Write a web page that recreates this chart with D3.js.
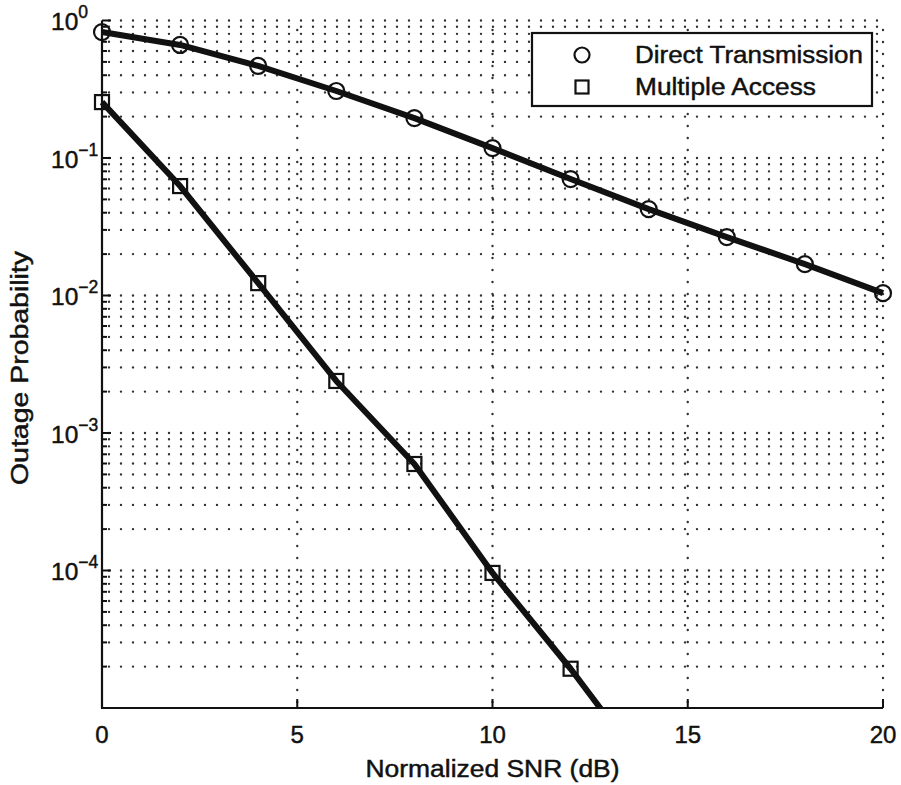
<!DOCTYPE html>
<html>
<head>
<meta charset="utf-8">
<script src="https://cdn.jsdelivr.net/npm/d3@7"></script>
<style>
  html, body { margin: 0; padding: 0; background: #fff; }
  svg { display: block; font-family: Arial, "Liberation Sans", Helvetica, sans-serif; }
  svg text { stroke: #111; stroke-width: 0.45px; }
</style>
</head>
<body>
<svg id="chart" width="901" height="785"></svg>
<script>
// Outage probability vs normalized SNR
const snrDirect = [0, 2, 4, 6, 8, 10, 12, 14, 16, 18, 20];
const outageDirect = [0.824, 0.664, 0.467, 0.307, 0.195, 0.118, 0.0703, 0.0425, 0.0266, 0.0169, 0.0104];

const snrMultiple = [0, 2, 4, 6, 8, 10, 12, 14];
const outageMultiple = [0.255, 0.0625, 0.0123, 0.00239, 0.000595, 0.000096, 0.0000193, 0.0000034];

const xTicks = [0, 5, 10, 15, 20];
const yDecades = [-5, -4, -3, -2, -1, 0];
const yTickLabels = ["", "−4", "−3", "−2", "−1", "0"];
const legendLabels = ["Direct Transmission", "Multiple Access"];

const svg = d3.select("#chart");
const plotLeft = 102, plotRight = 883, plotTop = 20.5, plotBottom = 708;

const x = d3.scaleLinear().domain([0, 20]).range([plotLeft, plotRight]);
const y = d3.scaleLog().domain([1e-5, 1]).range([plotBottom, plotTop]);

const ink = "#111";
const gridColor = "#333";

// dotted grid: all decade and sub-decade levels, vertical at major x ticks
const gridLevels = [];
yDecades.forEach(k => {
  for (let m = 1; m <= 9; m++) {
    const v = m * Math.pow(10, k);
    if (v > 1e-5 * 1.0001 && v <= 1.0001) gridLevels.push(v);
  }
});

const grid = svg.append("g");
grid.selectAll("line.h").data(gridLevels).join("line")
  .attr("class", "h")
  .attr("x1", plotLeft).attr("x2", plotRight)
  .attr("y1", d => y(d)).attr("y2", d => y(d))
  .attr("stroke", gridColor).attr("stroke-width", 2.4)
  .attr("stroke-linecap", "round")
  .attr("stroke-dasharray", "0,12")
  .attr("stroke-dashoffset", -7);

grid.selectAll("line.v").data(xTicks.filter(t => t > 0)).join("line")
  .attr("class", "v")
  .attr("x1", d => x(d)).attr("x2", d => x(d))
  .attr("y1", plotBottom).attr("y2", plotTop)
  .attr("stroke", gridColor).attr("stroke-width", 2.4)
  .attr("stroke-linecap", "round")
  .attr("stroke-dasharray", "0,12")
  .attr("stroke-dashoffset", -6);

// curves stop at the x axis
svg.append("clipPath").attr("id", "lineClip")
  .append("rect").attr("x", plotLeft - 14).attr("y", plotTop - 14)
  .attr("width", plotRight - plotLeft + 28).attr("height", plotBottom - plotTop + 14);

const line = d3.line().x(d => x(d[0])).y(d => y(d[1]));
const direct = d3.zip(snrDirect, outageDirect);
const multiple = d3.zip(snrMultiple, outageMultiple);

const curves = svg.append("g").attr("clip-path", "url(#lineClip)");

curves.append("path").datum(direct).attr("d", line)
  .attr("fill", "none").attr("stroke", ink).attr("stroke-width", 6)
  .attr("stroke-linejoin", "round");
curves.append("path").datum(multiple).attr("d", line)
  .attr("fill", "none").attr("stroke", ink).attr("stroke-width", 6)
  .attr("stroke-linejoin", "round");

curves.selectAll("circle.m").data(direct).join("circle")
  .attr("class", "m")
  .attr("cx", d => x(d[0])).attr("cy", d => y(d[1])).attr("r", 8)
  .attr("fill", "none").attr("stroke", ink).attr("stroke-width", 2.2);

const sq = 14;
curves.selectAll("rect.m").data(multiple.filter(d => d[1] >= 1e-5)).join("rect")
  .attr("class", "m")
  .attr("x", d => x(d[0]) - sq / 2).attr("y", d => y(d[1]) - sq / 2)
  .attr("width", sq).attr("height", sq)
  .attr("fill", "none").attr("stroke", ink).attr("stroke-width", 2.2);

// axes
const axes = svg.append("g");
axes.append("line").attr("x1", plotLeft).attr("x2", plotLeft).attr("y1", plotTop).attr("y2", plotBottom)
  .attr("stroke", ink).attr("stroke-width", 2.2);
axes.append("line").attr("x1", plotLeft - 1).attr("x2", plotRight).attr("y1", plotBottom).attr("y2", plotBottom)
  .attr("stroke", ink).attr("stroke-width", 2.2);

// y ticks (major + minor, pointing inward)
gridLevels.concat([1e-5]).forEach(v => {
  const isMajor = Math.abs(Math.log10(v) - Math.round(Math.log10(v))) < 1e-6;
  axes.append("line")
    .attr("x1", plotLeft).attr("x2", plotLeft + (isMajor ? 9 : 5))
    .attr("y1", y(v)).attr("y2", y(v))
    .attr("stroke", ink).attr("stroke-width", 2);
});

// x ticks
xTicks.forEach(t => {
  axes.append("line").attr("x1", x(t)).attr("x2", x(t))
    .attr("y1", plotBottom).attr("y2", plotBottom - 9)
    .attr("stroke", ink).attr("stroke-width", 2);
});

// x tick labels
axes.selectAll("text.xt").data(xTicks).join("text")
  .attr("class", "xt")
  .attr("x", d => x(d)).attr("y", 743)
  .attr("text-anchor", "middle")
  .attr("font-size", 24).attr("fill", ink)
  .text(d => d);

// y tick labels: 10 with superscript exponent
yDecades.forEach((k, i) => {
  if (!yTickLabels[i]) return;
  const ty = y(Math.pow(10, k));
  const t = axes.append("text")
    .attr("x", 51).attr("y", ty + 9.5)
    .attr("font-size", 24.5).attr("fill", ink);
  t.append("tspan").text("10");
  t.append("tspan").attr("dy", -12).attr("font-size", 17.5).text(yTickLabels[i]);
});

// axis titles
svg.append("text")
  .attr("x", (plotLeft + plotRight) / 2).attr("y", 777)
  .attr("text-anchor", "middle")
  .attr("font-size", 23).attr("fill", ink)
  .attr("textLength", 254).attr("lengthAdjust", "spacingAndGlyphs")
  .text("Normalized SNR (dB)");

svg.append("text")
  .attr("transform", "translate(28,368) rotate(-90)")
  .attr("text-anchor", "middle")
  .attr("font-size", 23).attr("fill", ink)
  .attr("textLength", 234).attr("lengthAdjust", "spacingAndGlyphs")
  .text("Outage Probability");

// legend
const lg = svg.append("g");
lg.append("rect").attr("x", 532).attr("y", 33).attr("width", 340).attr("height", 73)
  .attr("fill", "#fff").attr("stroke", ink).attr("stroke-width", 2.2);

lg.append("circle").attr("cx", 582).attr("cy", 55).attr("r", 7.5)
  .attr("fill", "none").attr("stroke", ink).attr("stroke-width", 2.2);
lg.append("rect").attr("x", 582 - 6.5).attr("y", 87 - 6.5).attr("width", 13).attr("height", 13)
  .attr("fill", "none").attr("stroke", ink).attr("stroke-width", 2.2);

lg.append("text").attr("x", 635).attr("y", 63).attr("font-size", 23).attr("fill", ink)
  .attr("textLength", 228).attr("lengthAdjust", "spacingAndGlyphs")
  .text(legendLabels[0]);
lg.append("text").attr("x", 635).attr("y", 95).attr("font-size", 23).attr("fill", ink)
  .attr("textLength", 181).attr("lengthAdjust", "spacingAndGlyphs")
  .text(legendLabels[1]);
</script>
</body>
</html>
